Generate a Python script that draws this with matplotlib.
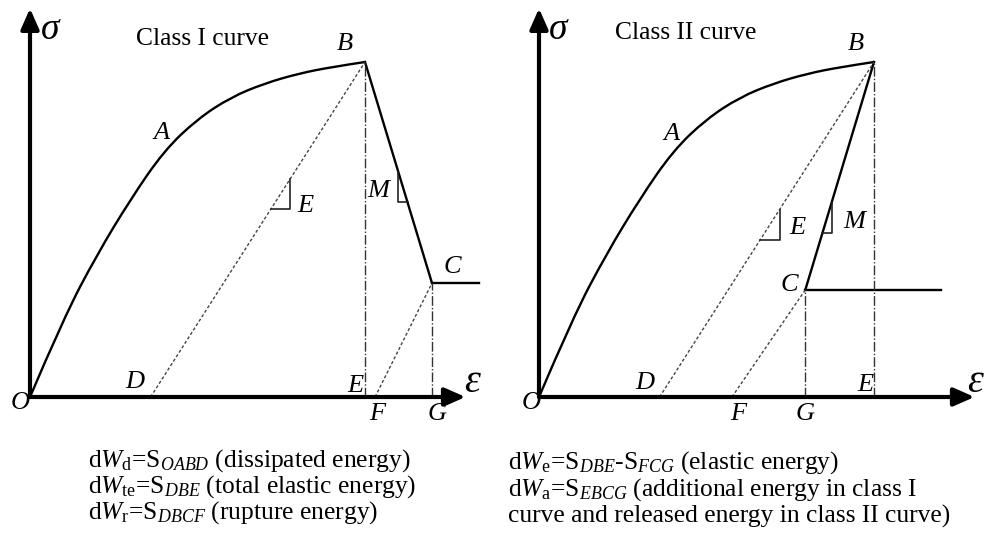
import matplotlib
matplotlib.use("Agg")
import matplotlib.pyplot as plt
from matplotlib.path import Path
from matplotlib.patches import PathPatch

plt.rcParams['font.family'] = ['Liberation Serif', 'DejaVu Serif']
plt.rcParams['mathtext.fontset'] = 'custom'
plt.rcParams['mathtext.rm'] = 'Liberation Serif'
plt.rcParams['mathtext.it'] = 'Liberation Serif:italic'
plt.rcParams['mathtext.bf'] = 'Liberation Serif:bold'

# ---------------- data (schematic units: strain eps, stress sigma) ----------------
# pre-peak curve O -> A -> B (shared by both classes)
curve_eps = [0.0, 1.0, 2.0, 3.0, 4.0, 5.0, 6.0, 7.0, 8.0, 9.0, 10.0]
curve_sig = [0.0, 2.35, 4.25, 5.9, 7.35, 8.3, 8.95, 9.36, 9.65, 9.85, 10.0]
peak_B = (10.0, 10.0)

# Class I
c1_C = (12.0, 3.4)
c1_tail_end = 13.4
c1_D = 3.6
c1_F = 10.3
c1_triE = [(7.2, 5.6), (7.77, 5.6), (7.77, 6.5)]
c1_triM = [(10.99, 6.72), (10.99, 5.82), (11.27, 5.82)]

# Class II
c2_C = (7.95, 3.2)
c2_tail_end = 12.0
c2_D = 3.6
c2_F = 5.76
c2_triE = [(6.6, 4.69), (7.19, 4.69), (7.19, 5.58)]
c2_triM = [(8.46, 4.90), (8.75, 4.90), (8.75, 5.79)]

axis_eps_max = 13.0
axis_sig_max = 11.6

titles = ["Class I curve", "Class II curve"]
left_notes = [r"d$W_{\mathrm{d}}$=S$_{OABD}$ (dissipated energy)",
              r"d$W_{\mathrm{te}}$=S$_{DBE}$ (total elastic energy)",
              r"d$W_{\mathrm{r}}$=S$_{DBCF}$ (rupture energy)"]
right_notes = [r"d$W_{\mathrm{e}}$=S$_{DBE}$-S$_{FCG}$ (elastic energy)",
               r"d$W_{\mathrm{a}}$=S$_{EBCG}$ (additional energy in class I",
               "curve and released energy in class II curve)"]

# ---------------- figure ----------------
W, H = 986, 538
fig = plt.figure(figsize=(W / 100, H / 100), dpi=100)
fig.patch.set_facecolor('white')

SCALE = 33.5  # px per schematic unit
OY = 397


def panel_axes(ox):
    ax = fig.add_axes([0, 0, 1, 1])
    ax.set_xlim(-ox / SCALE, (W - ox) / SCALE)
    ax.set_ylim(-(H - OY) / SCALE, OY / SCALE)
    ax.axis('off')
    ax.patch.set_alpha(0)
    return ax


def smooth_curve(ax, xs, ys, **kw):
    pts = list(zip(xs, ys))
    verts = [pts[0]]
    codes = [Path.MOVETO]
    n = len(pts)
    for i in range(1, n - 1):
        ctrl = pts[i]
        if i < n - 2:
            end = ((pts[i][0] + pts[i + 1][0]) / 2, (pts[i][1] + pts[i + 1][1]) / 2)
        else:
            end = pts[-1]
        verts += [ctrl, end]
        codes += [Path.CURVE3, Path.CURVE3]
    ax.add_patch(PathPatch(Path(verts, codes), fill=False, **kw))


def draw_panel(ax, C, tail_end, D, F, triE, triM):
    arrow = dict(arrowstyle='-|>,head_length=0.5,head_width=0.22', lw=3, color='black',
                 mutation_scale=25, shrinkA=0, shrinkB=0)
    ax.annotate('', xy=(axis_eps_max, 0), xytext=(0, 0), arrowprops=arrow)
    ax.annotate('', xy=(0, axis_sig_max), xytext=(0, 0), arrowprops=arrow)
    smooth_curve(ax, curve_eps, curve_sig, lw=1.7, color='black', capstyle='round')
    ax.plot([peak_B[0], C[0]], [peak_B[1], C[1]], color='black', lw=1.7)
    ax.plot([C[0], tail_end], [C[1], C[1]], color='black', lw=1.7)
    dot = dict(color='#444444', lw=1.0, linestyle=(0, (2.2, 1.6)))
    ax.plot([D, peak_B[0]], [0, peak_B[1]], **dot)
    ax.plot([F, C[0]], [0, C[1]], **dot)
    dd = dict(color='#333333', lw=1.0, linestyle=(0, (7, 1.5, 1, 1.5)))
    ax.plot([peak_B[0], peak_B[0]], [0, peak_B[1]], **dd)
    ax.plot([C[0], C[0]], [0, C[1]], **dd)
    for tri in (triE, triM):
        ax.plot([p[0] for p in tri], [p[1] for p in tri], color='#222222', lw=1.2)


axL = panel_axes(30)
draw_panel(axL, c1_C, c1_tail_end, c1_D, c1_F, c1_triE, c1_triM)
axR = panel_axes(539)
draw_panel(axR, c2_C, c2_tail_end, c2_D, c2_F, c2_triE, c2_triM)

# ---------------- text overlay (pixel coordinates) ----------------
ov = fig.add_axes([0, 0, 1, 1])
ov.set_xlim(0, W)
ov.set_ylim(H, 0)
ov.axis('off')
ov.patch.set_alpha(0)

lab = dict(fontsize=19, fontstyle='italic', ha='center', va='center')
left_labels = [("B", 345, 44), ("A", 162, 133), ("E", 305, 206), ("M", 378, 191),
               ("C", 452, 267), ("D", 135, 382), ("E", 355, 386), ("F", 377, 414),
               ("G", 437, 414), ("O", 20, 403)]
right_labels = [("B", 856, 44), ("A", 672, 134), ("E", 797, 228), ("M", 854, 222),
                ("C", 789, 285), ("D", 645, 383), ("E", 865, 385), ("F", 738, 414),
                ("G", 805, 414), ("O", 531, 403)]
for t, x, y in left_labels + right_labels:
    ov.text(x, y, t, **lab)

for x in (50, 558):
    ov.text(x, 30, "σ", fontsize=27, fontstyle='italic', ha='center', va='center')
for x in (472, 975):
    ov.text(x, 382, "ε", fontsize=29, fontstyle='italic', ha='center', va='center')

ov.text(203, 45, titles[0], fontsize=18.4, ha='center', va='baseline')
ov.text(686, 39, titles[1], fontsize=18.4, ha='center', va='baseline')

for i, s in enumerate(left_notes):
    ov.text(88, 467 + 26 * i, s, fontsize=18.4, ha='left', va='baseline')
for i, s in enumerate(right_notes):
    ov.text(508, 469 + 27 * i, s, fontsize=18.4, ha='left', va='baseline')

fig.savefig("out.png", dpi=100)
